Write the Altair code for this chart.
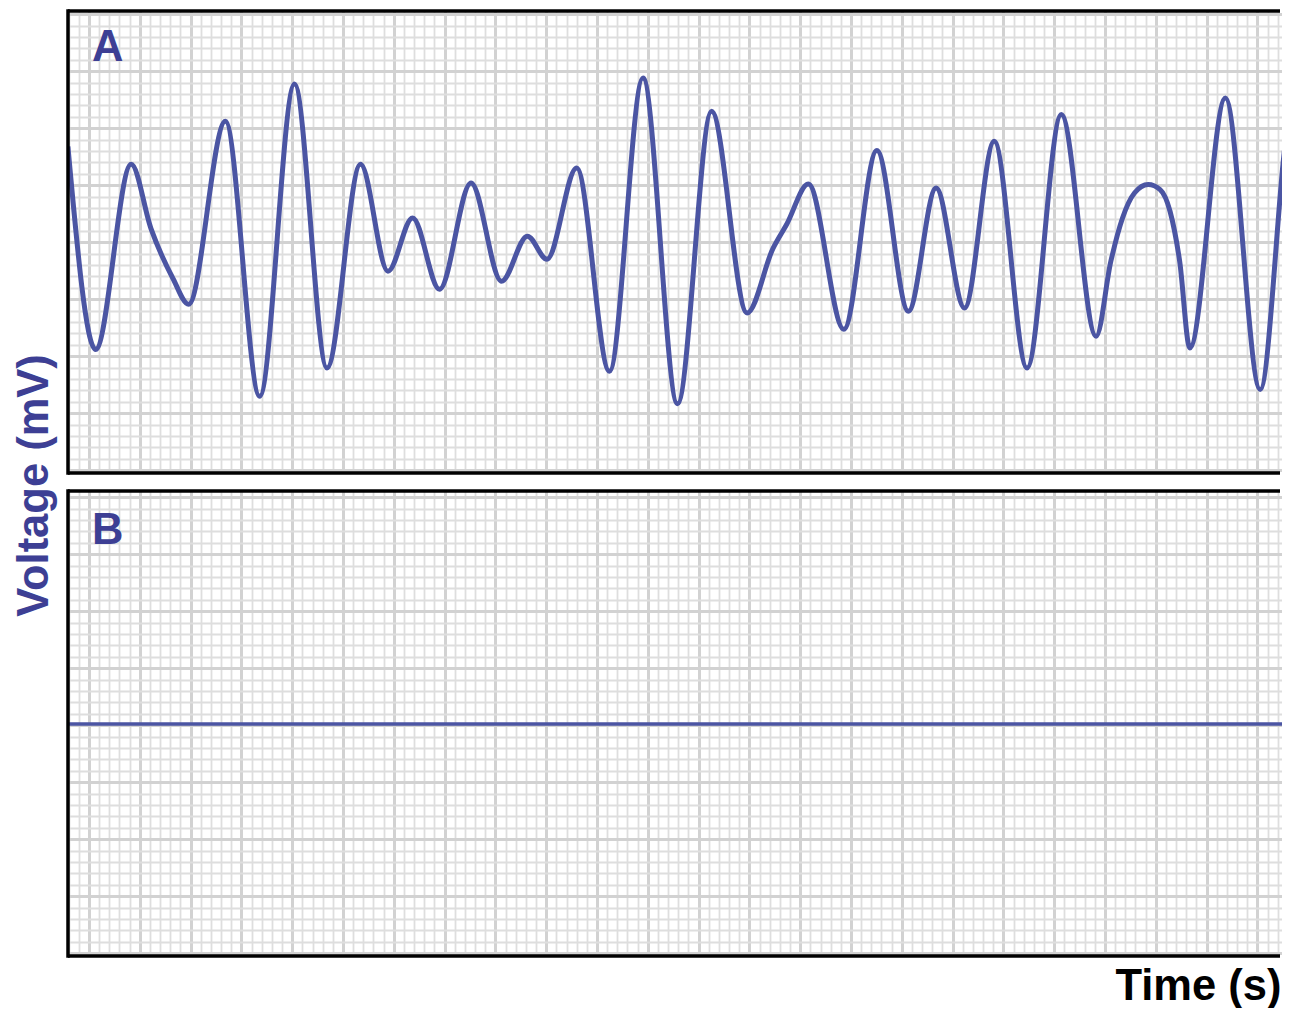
import altair as alt
import pandas as pd

# ---- data (time in s, voltage in mV) ----
# Panel A: turning points / shape points of the irregular trace
time_a = [0.117, 0.226, 0.366, 0.444, 0.531, 0.592, 0.737, 0.872, 1.009, 1.137,
          1.269, 1.377, 1.474, 1.580, 1.704, 1.824, 1.926, 2.003, 2.120, 2.249,
          2.381, 2.517, 2.651, 2.791, 2.893, 2.947, 3.032, 3.172, 3.302, 3.426,
          3.535, 3.647, 3.764, 3.893, 4.028, 4.165, 4.223, 4.269, 4.316, 4.370,
          4.417, 4.456, 4.494, 4.534, 4.674, 4.811, 4.932, 4.940]
volt_a = [0.84, -0.94, 0.684, 0.12, -0.32, -0.544, 1.061, -1.351, 1.389, -1.103,
          0.684, -0.254, 0.213, -0.412, 0.520, -0.342, 0.053, -0.149, 0.652, -1.132,
          1.441, -1.417, 1.149, -0.620, -0.053, 0.158, 0.511, -0.763, 0.804, -0.605,
          0.476, -0.576, 0.886, -1.103, 1.120, -0.825, -0.167, 0.213, 0.432, 0.506,
          0.462, 0.272, -0.167, -0.927, 1.266, -1.292, 1.079, 1.07]
# Panel B: flat line
time_b = [0.117, 4.940]
volt_b = [0.01, 0.01]

panel_labels = ["A", "B"]
y_title = "Voltage (mV)"
x_title = "Time (s)"

# ---- styling ----
LINE_BLUE = "#4b55a3"
TEXT_BLUE = "#3d3f94"
GRID_MINOR = "#dedede"
GRID_MAJOR = "#d2d2d2"
FONT = "Liberation Sans"
FS = 43.5
BORDER = 3.5

W = 1214
T_MIN = 0.1173
T_MAX = 0.2 + (W - 21) / 254.0
H_A, H_B = 462, 465
x_grid = [round(0.2 + 0.04 * k, 2) for k in range(-2, 118)]
y_grid = [round(0.1 * j, 1) for j in range(-20, 21)]

x_major = "abs(datum.value * 5 - round(datum.value * 5)) < 0.001"
y_major = "abs(datum.value * 2 - round(datum.value * 2)) < 0.001"


def cond(test, a, b):
    return {"condition": {"test": test, "value": a}, "value": b}


frame_df = pd.DataFrame({"edge": ["frame"]})


def panel(df, ydom, height, label, label_y, stroke_w, show_ytitle, show_xtitle):
    xscale = alt.Scale(domain=[T_MIN, T_MAX], nice=False, zero=False)
    yscale = alt.Scale(domain=ydom, nice=False, zero=False)

    xaxis_kw = dict(
        values=x_grid, tickCount=1000, grid=True,
        gridColor=cond(x_major, GRID_MAJOR, GRID_MINOR),
        gridWidth=cond(x_major, 3, 1.8),
        labels=False, ticks=False, domain=False,
    )
    if show_xtitle:
        xaxis_kw.update(
            title=x_title, titleFont=FONT, titleFontSize=FS, titleFontWeight="bold",
            titleColor="black", titleAlign="right", titleBaseline="alphabetic",
            titleX=W - 1, titleY=43,
        )
    else:
        xaxis_kw.update(title=None)

    yaxis_kw = dict(
        values=y_grid, tickCount=1000, grid=True,
        gridColor=cond(y_major, GRID_MAJOR, GRID_MINOR),
        gridWidth=cond(y_major, 3, 1.8),
        labels=False, ticks=False, domain=False,
    )
    if show_ytitle:
        yaxis_kw.update(
            title=y_title, titleFont=FONT, titleFontSize=FS, titleFontWeight="bold",
            titleColor=TEXT_BLUE, titleAngle=270, titleAlign="center",
            titleBaseline="bottom", titleX=-11.5, titleY=474,
        )
    else:
        yaxis_kw.update(title=None)

    line = alt.Chart(df).mark_line(
        interpolate="monotone", color=LINE_BLUE, strokeWidth=stroke_w, clip=True
    ).encode(
        x=alt.X("time:Q", scale=xscale, axis=alt.Axis(**xaxis_kw)),
        y=alt.Y("voltage:Q", scale=yscale, axis=alt.Axis(**yaxis_kw)),
    )

    # frame: left, top and bottom edges (the right edge runs off the page)
    left = alt.Chart(frame_df).mark_rule(
        color="black", strokeWidth=BORDER, strokeCap="square"
    ).encode(x=alt.value(0), y=alt.value(0), y2=alt.value(height))
    top = alt.Chart(frame_df).mark_rule(color="black", strokeWidth=BORDER).encode(
        x=alt.value(0), x2=alt.value(W - 2), y=alt.value(0))
    bottom = alt.Chart(frame_df).mark_rule(color="black", strokeWidth=BORDER).encode(
        x=alt.value(0), x2=alt.value(W - 2), y=alt.value(height))

    lab = alt.Chart(pd.DataFrame({"label": [label]})).mark_text(
        font=FONT, fontSize=FS, fontWeight="bold", color=TEXT_BLUE,
        align="left", baseline="alphabetic"
    ).encode(text="label:N", x=alt.value(24), y=alt.value(label_y))

    return alt.layer(line, left, top, bottom, lab).properties(width=W, height=height)


df_a = pd.DataFrame({"time": time_a, "voltage": volt_a})
df_b = pd.DataFrame({"time": time_b, "voltage": volt_b})

pa = panel(df_a, [-2.024, 2.0285], H_A, panel_labels[0], 49.5, 5, True, False)
pb = panel(df_b, [-2.024, 2.0548], H_B, panel_labels[1], 52.5, 3.5, False, True)

chart = alt.vconcat(pa, pb, spacing=18, bounds="flush").properties(
    padding={"left": 4, "top": 0, "right": 0, "bottom": 0}
).configure_view(strokeWidth=0)

chart.save("out.html", embed_options={"renderer": "svg", "actions": False})
